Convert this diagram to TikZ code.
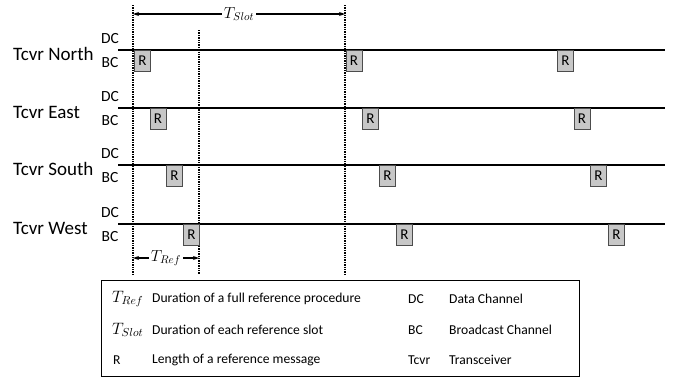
\RequirePackage{fix-cm}
\documentclass[tikz,border=0pt]{standalone}
\usepackage{fontspec}
\setmainfont{Carlito}
\usetikzlibrary{arrows.meta}
\begin{document}
\begin{tikzpicture}[x=1pt,y=-1pt,
  tcvr/.style={font=\fontsize{19}{22}\selectfont, anchor=west, inner sep=0pt},
  chan/.style={font=\fontsize{15.5}{17}\selectfont, inner sep=0pt},
  rbox/.style={draw=black!70, fill=black!22, line width=0.8pt, minimum width=16pt, minimum height=21pt, inner sep=0pt, anchor=north west, font=\fontsize{15}{17}\selectfont},
  track/.style={line width=1.8pt},
  vline/.style={densely dotted, line width=1.4pt},
  dimarrow/.style={line width=1.1pt, {Stealth[length=6pt,width=4pt]}-{Stealth[length=6pt,width=4pt]}},
  dimlabel/.style={fill=white, inner sep=2pt, font=\fontsize{16}{18}\selectfont},
  legtext/.style={font=\fontsize{13.6}{16}\selectfont, anchor=west, inner sep=0pt},
  legmath/.style={font=\fontsize{16.5}{18}\selectfont, anchor=west, inner sep=0pt}]
\useasboundingbox (0,0) rectangle (682,378);

% dotted vertical lines
\coordinate (v1t) at (133,5);   \coordinate (v1b) at (133,274);
\coordinate (v2t) at (199,30);  \coordinate (v2b) at (199,274);
\coordinate (v3t) at (345,5);   \coordinate (v3b) at (345,274);
\draw[vline] (v1t) -- (v1b);
\draw[vline] (v2t) -- (v2b);
\draw[vline] (v3t) -- (v3b);

% T_Slot and T_Ref dimension arrows
\coordinate (sa) at (133,14); \coordinate (sb) at (345,14);
\draw[dimarrow] (sa) -- node[dimlabel] (tslot) {$T_{Slot}$} (sb);
\coordinate (ra) at (133,258); \coordinate (rb) at (199,258);
\draw[dimarrow] (ra) -- node[dimlabel] (tref) {$T_{Ref}$} (rb);

% tracks
\foreach \nm/\yy/\lab/\xa/\xb/\xc in {N/50/North/134/345.5/557, E/108/East/149.5/362/573.5, S/165/South/166/379/590, W/224/West/183/396/608}{
  \coordinate (\nm a) at (118,\yy);
  \coordinate (\nm b) at (665,\yy);
  \draw[track] (\nm a) -- (\nm b);
  \node[tcvr] (\nm lab) at (13,\yy+4) {Tcvr \lab};
  \node[chan] (\nm dc) at (110,\yy-11) {DC};
  \node[chan] (\nm bc) at (110,\yy+13) {BC};
  \node[rbox] (\nm r1) at (\xa,\yy) {R};
  \node[rbox] (\nm r2) at (\xb,\yy) {R};
  \node[rbox] (\nm r3) at (\xc,\yy) {R};
}

% legend
\node[draw, line width=0.8pt, anchor=north west, minimum width=478pt, minimum height=96pt, inner sep=0pt] (legend) at (101,280) {};
\node[legmath] (l1a) at (112,299) {$T_{Ref}$};
\node[legtext] (l1b) at (152,299) {Duration of a full reference procedure};
\node[legtext] (l1c) at (408,299) {DC};
\node[legtext] (l1d) at (449,299) {Data Channel};
\node[legmath] (l2a) at (112,330) {$T_{Slot}$};
\node[legtext] (l2b) at (152,330) {Duration of each reference slot};
\node[legtext] (l2c) at (408,330) {BC};
\node[legtext] (l2d) at (449,330) {Broadcast Channel};
\node[legtext] (l3a) at (113,360) {R};
\node[legtext] (l3b) at (152,360) {Length of a reference message};
\node[legtext] (l3c) at (408,360) {Tcvr};
\node[legtext] (l3d) at (449,360) {Transceiver};
\end{tikzpicture}
\end{document}
